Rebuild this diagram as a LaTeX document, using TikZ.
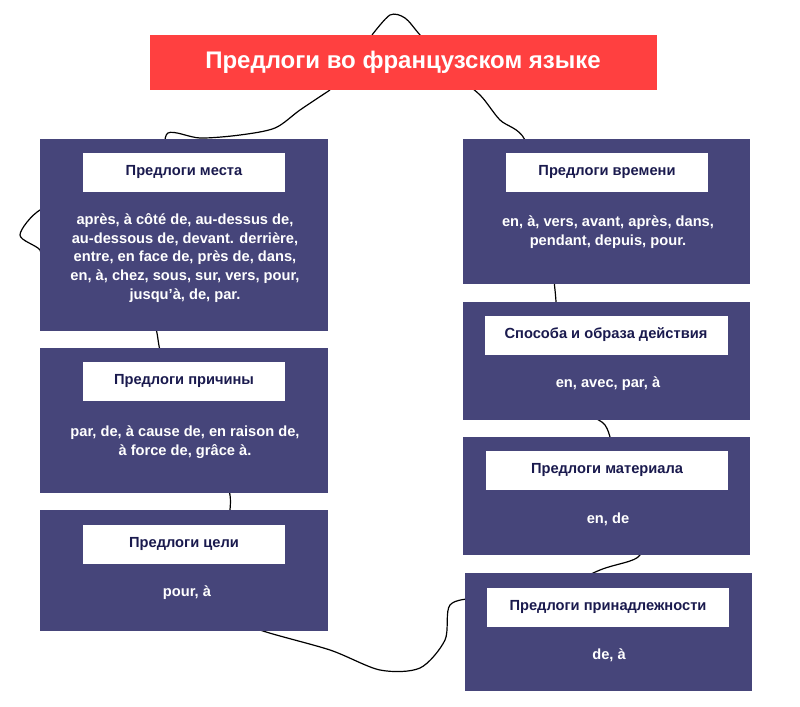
\documentclass[tikz,border=0pt]{standalone}
\usepackage{fontspec}
\setmainfont{Liberation Sans}
\definecolor{panel}{HTML}{46457A}
\definecolor{titred}{HTML}{FF4040}
\definecolor{labtxt}{HTML}{1A1A4E}
\begin{document}
\begin{tikzpicture}[x=0.75pt,y=-0.75pt,
 panelbox/.style={fill=panel,draw=none},
 labbox/.style={fill=white,draw=none,font=\bfseries\fontsize{11}{13}\selectfont,text=labtxt},
 bodytxt/.style={text=white,font=\bfseries\fontsize{11}{14}\selectfont,align=center}]
\useasboundingbox (0,0) rectangle (800,707);
\fill[white] (0,0) rectangle (800,707);
% outline
\draw[black,line width=0.9pt] plot[smooth,tension=0.5] coordinates{
(330,90)(300,110)(275,128)(240,135)(200,138)(168,133)(160,160)(120,175)(80,200)(40,210)(20,235)(40,250)(45,270)(80,300)(100,320)(150,320)(160,350)(170,380)(200,430)(230,495)(220,560)(215,610)(260,630)(330,650)(380,670)(420,668)(445,640)(450,605)(480,598)(530,600)(600,570)(640,555)(630,520)(615,460)(605,425)(575,405)(560,350)(555,290)(545,210)(525,140)(500,120)(480,95)(450,70)(420,35)(405,18)(390,15)(372,35)};
% title
\fill[titred] (150,35) rectangle (657,90);
\node[text=white,font=\bfseries\fontsize{18}{20}\selectfont] (title) at (403,62) {Предлоги во французском языке};
% left
\fill[panelbox] (40,139) rectangle (328,331);
\node[labbox,minimum width=202*0.75pt,minimum height=39*0.75pt] (l1) at (184,172) {Предлоги места};
\node[bodytxt] (b1) at (185,258) {après, à côté de, au-dessus de,\\au-dessous de, devant. derrière,\\entre, en face de, près de, dans,\\en, à, chez, sous, sur, vers, pour,\\jusqu'à, de, par.};
\fill[panelbox] (40,348) rectangle (328,493);
\node[labbox,minimum width=202*0.75pt,minimum height=39*0.75pt] (l2) at (184,381) {Предлоги причины};
\node[bodytxt] (b2) at (185,442) {par, de, à cause de, en raison de,\\à force de, grâce à.};
\fill[panelbox] (40,510) rectangle (328,631);
\node[labbox,minimum width=202*0.75pt,minimum height=39*0.75pt] (l3) at (184,544) {Предлоги цели};
\node[bodytxt] (b3) at (187,593) {pour, à};
% right
\fill[panelbox] (463,139) rectangle (750,284);
\node[labbox,minimum width=202*0.75pt,minimum height=39*0.75pt] (r1) at (607,172) {Предлоги времени};
\node[bodytxt] (rb1) at (608,232) {en, à, vers, avant, après, dans,\\pendant, depuis, pour.};
\fill[panelbox] (463,302) rectangle (750,420);
\node[labbox,minimum width=243*0.75pt,minimum height=39*0.75pt] (r2) at (606,335) {Способа и образа действия};
\node[bodytxt] (rb2) at (608,384) {en, avec, par, à};
\fill[panelbox] (463,437) rectangle (750,555);
\node[labbox,minimum width=242*0.75pt,minimum height=39*0.75pt] (r3) at (607,470) {Предлоги материала};
\node[bodytxt] (rb3) at (608,519) {en, de};
\fill[panelbox] (465,573) rectangle (752,691);
\node[labbox,minimum width=242*0.75pt,minimum height=39*0.75pt] (r4) at (608,607) {Предлоги принадлежности};
\node[bodytxt] (rb4) at (609,655) {de, à};
\end{tikzpicture}
\end{document}
